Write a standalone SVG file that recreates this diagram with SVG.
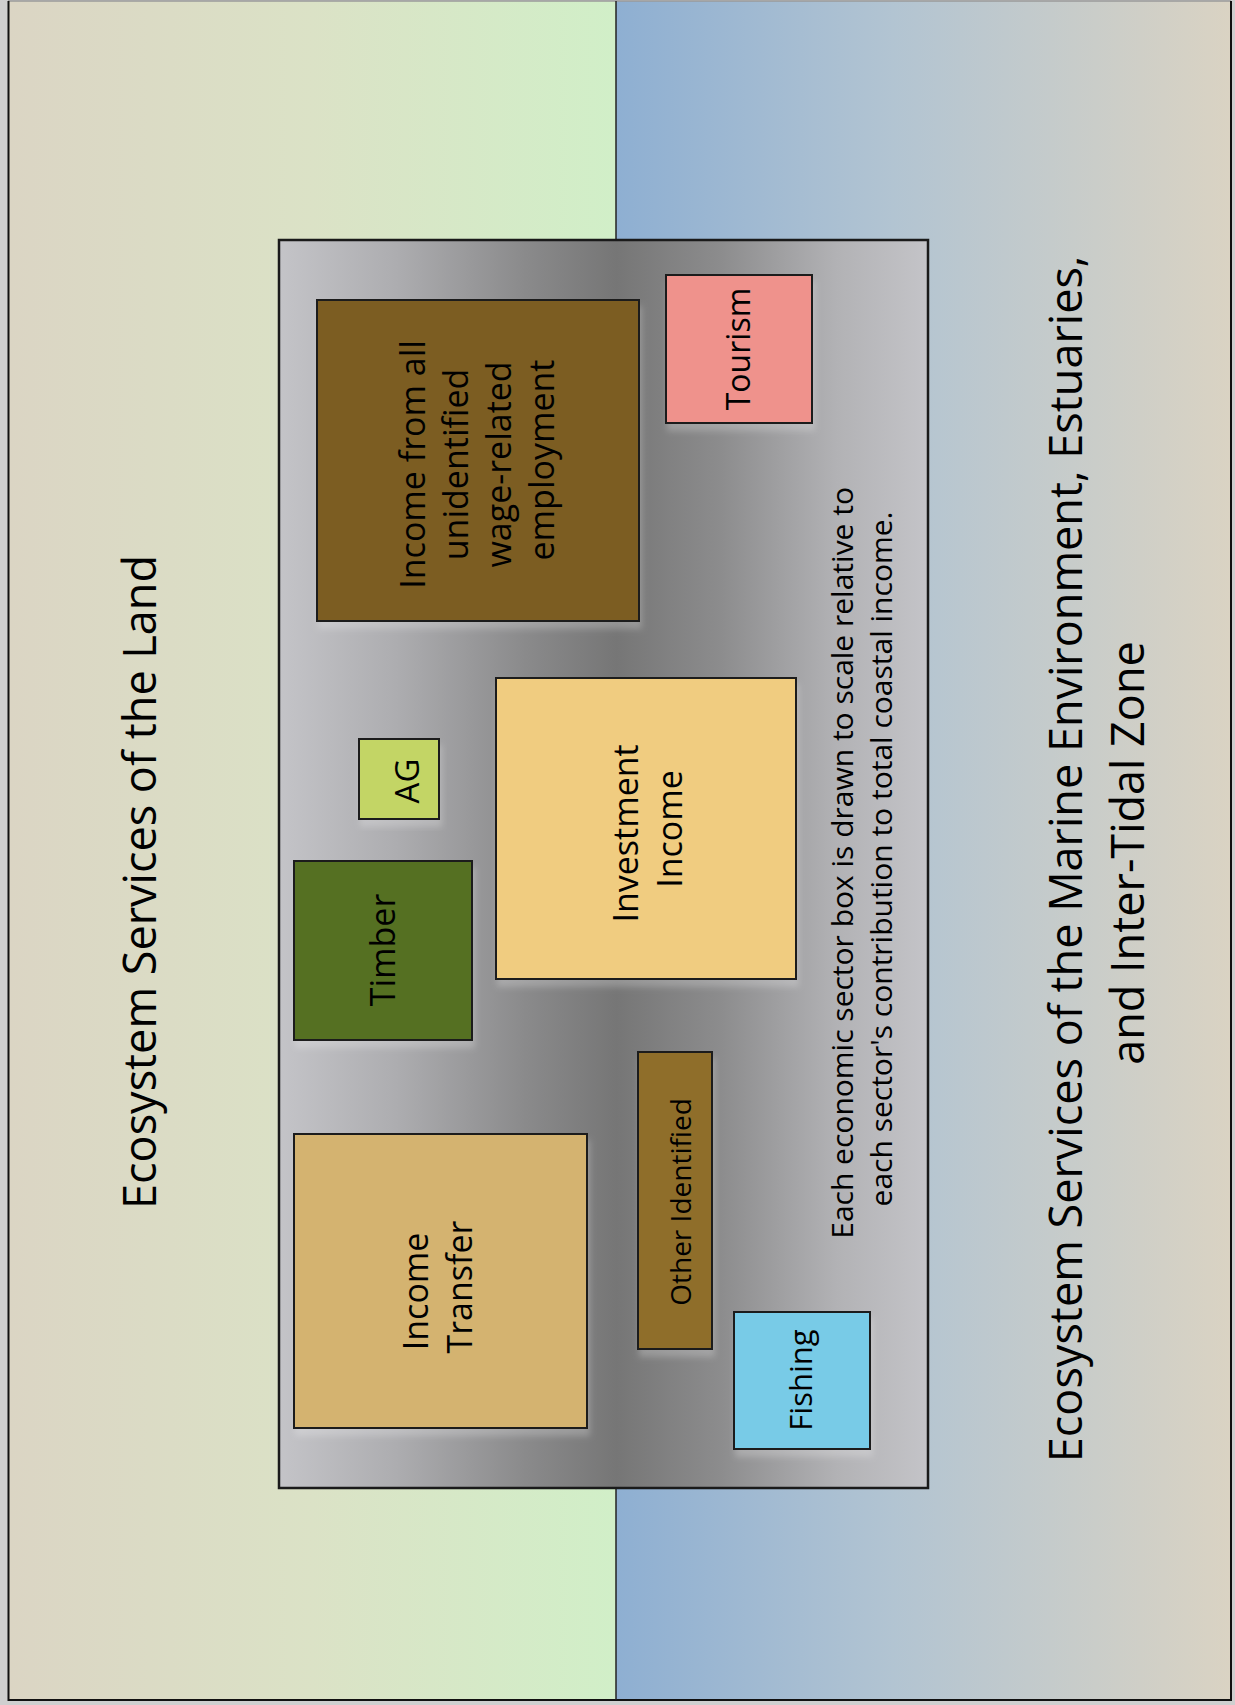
<svg xmlns="http://www.w3.org/2000/svg" width="1235" height="1705" viewBox="0 0 1235 1705">
  <defs>
    <linearGradient id="landBg" gradientUnits="userSpaceOnUse" x1="8" y1="0" x2="616" y2="0">
      <stop offset="0" stop-color="#dbd5c4"/>
      <stop offset="0.5" stop-color="#dbe2c6"/>
      <stop offset="1" stop-color="#d1efc8"/>
    </linearGradient>
    <linearGradient id="seaBg" gradientUnits="userSpaceOnUse" x1="616" y1="0" x2="1231" y2="0">
      <stop offset="0" stop-color="#8eafd2"/>
      <stop offset="0.45" stop-color="#b2c4d2"/>
      <stop offset="1" stop-color="#dad3c3"/>
    </linearGradient>
    <linearGradient id="panelFill" gradientUnits="userSpaceOnUse" x1="279" y1="0" x2="928" y2="0">
      <stop offset="0" stop-color="#c4c4c8"/>
      <stop offset="0.18" stop-color="#adadb0"/>
      <stop offset="0.38" stop-color="#8a8a8b"/>
      <stop offset="0.52" stop-color="#767676"/>
      <stop offset="0.68" stop-color="#8c8c8d"/>
      <stop offset="0.86" stop-color="#b2b2b5"/>
      <stop offset="1" stop-color="#c4c4c8"/>
    </linearGradient>
    <filter id="glow" x="-10%" y="-10%" width="120%" height="125%">
      <feGaussianBlur in="SourceAlpha" stdDeviation="3"/>
      <feOffset dx="2" dy="7" result="off"/>
      <feFlood flood-color="#ffffff" flood-opacity="0.22"/>
      <feComposite in2="off" operator="in"/>
      <feMerge>
        <feMergeNode/>
        <feMergeNode in="SourceGraphic"/>
      </feMerge>
    </filter>
  </defs>
  <style>
    .box { stroke: #1e1e1e; stroke-width: 2; filter: url(#glow); }
    .lbl { font-family: "Open Sans", "Noto Sans", "DejaVu Sans", sans-serif; fill: #000; text-anchor: middle; }
    .title { font-size: 45px; }
    .note { font-size: 30px; }
    .edge { stroke: #111; stroke-width: 2; fill: none; }
  </style>

  <!-- page surround and backgrounds -->
  <rect x="0" y="0" width="1235" height="1705" fill="#cfcfcf"/>
  <g id="land-zone">
    <rect x="8" y="1" width="608" height="1699" fill="url(#landBg)"/>
  </g>
  <g id="marine-zone">
    <rect x="616" y="1" width="615" height="1699" fill="url(#seaBg)"/>
  </g>

  <!-- page border: dark on left, bottom and right, light on top -->
  <line x1="8" y1="1" x2="1231" y2="1" stroke="#9a9a9a" stroke-width="1.5"/>
  <polyline class="edge" points="8.5,1 8.5,1700 1231,1700 1231,1"/>

  <!-- land / sea boundary -->
  <g id="divider">
    <line x1="616" y1="1" x2="616" y2="1700" stroke="#222" stroke-width="1.5"/>
  </g>

  <!-- coastal economy panel -->
  <g id="panel">
    <rect x="279" y="240" width="649" height="1248" fill="url(#panelFill)" stroke="#1a1a1a" stroke-width="2.5"/>
  </g>

  <g id="income-wage">
    <rect class="box" x="317" y="300" width="322" height="321" fill="#7b5d20"/>
    <text class="lbl" font-size="34" transform="translate(425,460) rotate(-90)">
      <tspan x="0" y="0">Income from all</tspan>
      <tspan x="0" y="43">unidentified</tspan>
      <tspan x="0" y="86">wage-related</tspan>
      <tspan x="0" y="129">employment</tspan>
    </text>
  </g>

  <g id="tourism">
    <rect class="box" x="666" y="275" width="146" height="148" fill="#ef928c"/>
    <text class="lbl" font-size="32" transform="translate(750,349) rotate(-90)">Tourism</text>
  </g>

  <g id="ag">
    <rect class="box" x="359" y="739" width="80" height="80" fill="#c3d565"/>
    <text class="lbl" font-size="33" transform="translate(419,781) rotate(-90)">AG</text>
  </g>

  <g id="investment">
    <rect class="box" x="496" y="678" width="300" height="301" fill="#f0cc80"/>
    <text class="lbl" font-size="34" transform="translate(638,829) rotate(-90)">
      <tspan x="0" y="0">Investment</tspan>
      <tspan x="0" y="44">Income</tspan>
    </text>
  </g>

  <g id="timber">
    <rect class="box" x="294" y="861" width="178" height="179" fill="#546f21"/>
    <text class="lbl" font-size="34" transform="translate(395,950) rotate(-90)">Timber</text>
  </g>

  <g id="other-identified">
    <rect class="box" x="638" y="1052" width="74" height="297" fill="#8f6e2a"/>
    <text class="lbl" font-size="28" transform="translate(691,1202) rotate(-90)">Other Identified</text>
  </g>

  <g id="income-transfer">
    <rect class="box" x="294" y="1134" width="293" height="294" fill="#d4b36f"/>
    <text class="lbl" font-size="34" transform="translate(428,1287) rotate(-90)">
      <tspan x="0" y="0">Income</tspan>
      <tspan x="0" y="44">Transfer</tspan>
    </text>
  </g>

  <g id="fishing">
    <rect class="box" x="734" y="1312" width="136" height="137" fill="#78cbe7"/>
    <text class="lbl" font-size="31" transform="translate(812,1380) rotate(-90)">Fishing</text>
  </g>

  <g id="scale-note">
    <text class="lbl note" transform="translate(853,859) rotate(-90)">
      <tspan x="0" y="0">Each economic sector box is drawn to scale relative to</tspan>
      <tspan x="0" y="39">each sector's contribution to total coastal income.</tspan>
    </text>
  </g>

  <g id="land-title">
    <text class="lbl title" transform="translate(156,882) rotate(-90)">Ecosystem Services of the Land</text>
  </g>

  <g id="marine-title">
    <text class="lbl title" transform="translate(1082,853) rotate(-90)">
      <tspan x="0" y="0">Ecosystem Services of the Marine Environment, Estuaries,</tspan>
      <tspan x="0" y="62">and Inter-Tidal Zone</tspan>
    </text>
  </g>
</svg>
